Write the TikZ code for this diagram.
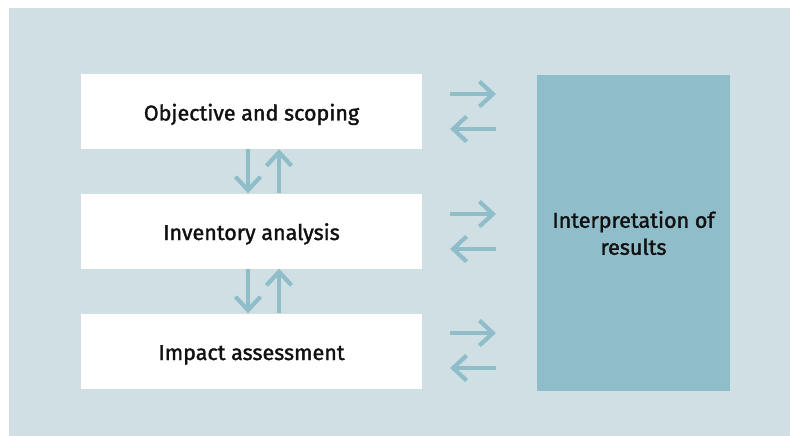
\documentclass[tikz,border=0pt]{standalone}
\usepackage{fontspec}
\setmainfont{Fira Sans}[FakeBold=1.6]
\usetikzlibrary{arrows.meta}
\definecolor{panel}{HTML}{CFDFE4}
\definecolor{teal}{HTML}{8FBDC9}
\definecolor{ink}{HTML}{111111}
\tikzset{
  stage/.style={fill=white, draw=none, minimum width=341pt, minimum height=75pt,
    inner sep=0pt, text height=18pt, text depth=0pt,
    font=\fontsize{21.5}{26}\selectfont, text=ink},
  result/.style={fill=teal, draw=none, minimum width=193pt, minimum height=315pt,
    inner sep=0pt, font=\fontsize{21.5}{27}\selectfont, text=ink, align=center},
  flow/.style={draw=teal, line width=4.2pt,
    -{Straight Barb[length=13.5pt, width=25pt, line width=4.2pt]}}
}
\begin{document}
\begin{tikzpicture}[x=1pt, y=-1pt]
  \useasboundingbox (0,0) rectangle (790,436);
  % backdrop panel
  \fill[panel] (9,8) rectangle (790,436);

  % process stages
  \node[stage] (obj) at (251.5,111.5) {Objective and scoping};
  \node[stage] (inv) at (251.5,231) {Inventory analysis};
  \node[stage] (imp) at (251.5,351) {Impact assessment};
  \node[result] (res) at (633.5,233) {Interpretation of\\results};

  % vertical exchanges between stages
  \draw[flow] (obj.south -| 248,0) -- (inv.north -| 248,0);
  \draw[flow] (inv.north -| 279,0) -- (obj.south -| 279,0);
  \draw[flow] (inv.south -| 248,0) -- (imp.north -| 248,0);
  \draw[flow] (imp.north -| 279,0) -- (inv.south -| 279,0);

  % exchanges with the interpretation column
  \foreach \s/\a/\b in {obj/94/129, inv/214/249, imp/333/368}{
    \coordinate (\s-ra) at (450,\a);
    \coordinate (\s-rb) at (496,\a);
    \coordinate (\s-la) at (496,\b);
    \coordinate (\s-lb) at (450,\b);
    \draw[flow] (\s-ra) -- (\s-rb);
    \draw[flow] (\s-la) -- (\s-lb);
  }
\end{tikzpicture}
\end{document}
